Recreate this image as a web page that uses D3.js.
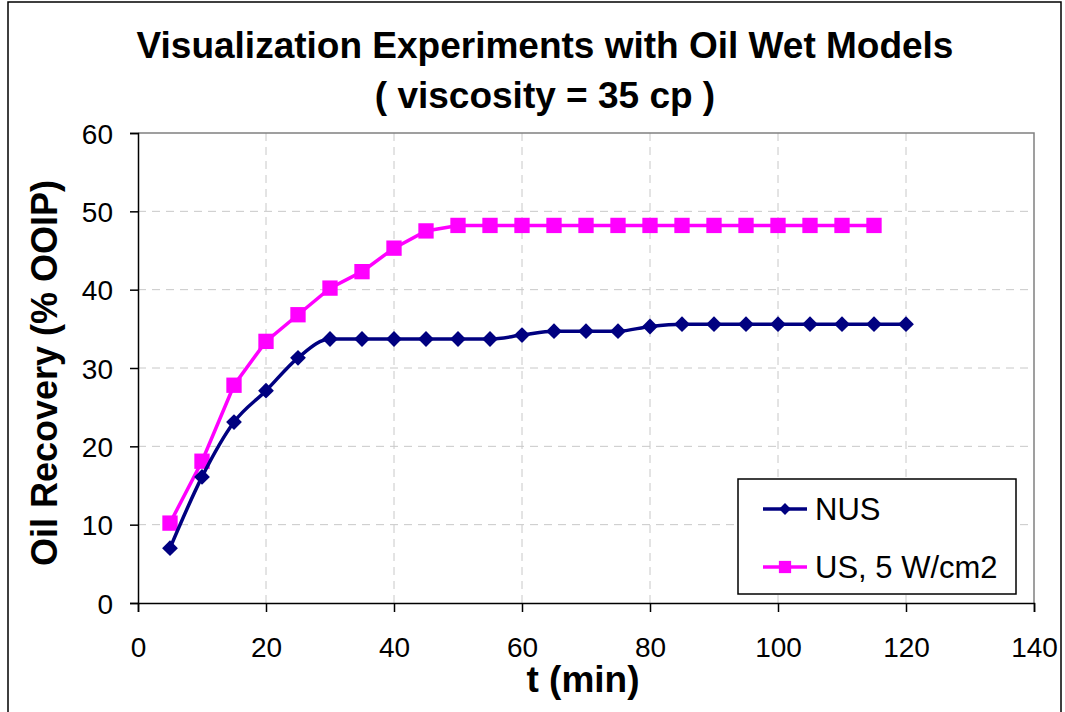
<!DOCTYPE html>
<html>
<head>
<meta charset="utf-8">
<script src="https://cdn.jsdelivr.net/npm/d3@7"></script>
<style>
  body { margin: 0; background: #fff; }
  svg { font-family: "Liberation Sans", Arial, sans-serif; }
</style>
</head>
<body>
<div id="chart-area"></div>
<script>
const timeNUS = [5, 10, 15, 20, 25, 30, 35, 40, 45, 50, 55, 60, 65, 70, 75, 80, 85, 90, 95, 100, 105, 110, 115, 120]
const nusValues = [7.0, 16.1, 23.1, 27.1, 31.3, 33.7, 33.7, 33.7, 33.7, 33.7, 33.7, 34.2, 34.7, 34.7, 34.7, 35.3, 35.6, 35.6, 35.6, 35.6, 35.6, 35.6, 35.6, 35.6]
const timeUS = [5, 10, 15, 20, 25, 30, 35, 40, 45, 50, 55, 60, 65, 70, 75, 80, 85, 90, 95, 100, 105, 110, 115]
const usValues = [10.2, 18.1, 27.8, 33.4, 36.8, 40.2, 42.3, 45.3, 47.5, 48.2, 48.2, 48.2, 48.2, 48.2, 48.2, 48.2, 48.2, 48.2, 48.2, 48.2, 48.2, 48.2, 48.2]
const xTicks = [0, 20, 40, 60, 80, 100, 120, 140]
const yTicks = [0, 10, 20, 30, 40, 50, 60]
const seriesNames = ["NUS", "US, 5 W/cm2"]

const W = 1065, H = 712
const MARGIN = { LEFT: 138, RIGHT: 31, TOP: 133, BOTTOM: 109 }
const WIDTH = W - MARGIN.LEFT - MARGIN.RIGHT
const HEIGHT = H - MARGIN.TOP - MARGIN.BOTTOM

const svg = d3.select("#chart-area").append("svg")
  .attr("width", W)
  .attr("height", H)

// outer chart border
svg.append("rect")
  .attr("x", 8).attr("y", 2)
  .attr("width", 1053).attr("height", 730)
  .attr("fill", "none").attr("stroke", "#000").attr("stroke-width", 1.5)

// title
svg.append("text")
  .attr("x", 545).attr("y", 58)
  .attr("text-anchor", "middle")
  .attr("font-size", "37px").attr("font-weight", "bold")
  .text("Visualization Experiments with Oil Wet Models")
svg.append("text")
  .attr("x", 545).attr("y", 108)
  .attr("text-anchor", "middle")
  .attr("font-size", "37px").attr("font-weight", "bold")
  .text("( viscosity = 35 cp )")

const g = svg.append("g")
  .attr("transform", `translate(${MARGIN.LEFT}, ${MARGIN.TOP})`)

const x = d3.scaleLinear().domain([0, 140]).range([0, WIDTH])
const y = d3.scaleLinear().domain([0, 60]).range([HEIGHT, 0])

// grid
g.append("g").selectAll("line")
  .data(yTicks.slice(1, -1))
  .join("line")
    .attr("x1", 0).attr("x2", WIDTH)
    .attr("y1", d => y(d)).attr("y2", d => y(d))
    .attr("stroke", "#c8c8c8").attr("stroke-dasharray", "8,6")
g.append("g").selectAll("line")
  .data(xTicks.slice(1, -1))
  .join("line")
    .attr("x1", d => x(d)).attr("x2", d => x(d))
    .attr("y1", 0).attr("y2", HEIGHT)
    .attr("stroke", "#c8c8c8").attr("stroke-dasharray", "8,6")

// plot area border top/right
g.append("path")
  .attr("d", `M0,0H${WIDTH}V${HEIGHT}`)
  .attr("fill", "none").attr("stroke", "#808080").attr("stroke-width", 1.5)

// axes
const xAxisGroup = g.append("g")
  .attr("transform", `translate(0, ${HEIGHT})`)
  .call(d3.axisBottom(x).tickValues(xTicks).tickSize(9).tickPadding(25))
const yAxisGroup = g.append("g")
  .call(d3.axisLeft(y).tickValues(yTicks).tickSize(8).tickPadding(17))

g.selectAll(".domain").attr("stroke", "#000").attr("stroke-width", 1.5)
g.selectAll(".tick line").attr("stroke", "#000").attr("stroke-width", 1.5)
g.selectAll(".tick text")
  .attr("font-size", "28px")
  .attr("font-family", "Liberation Sans, Arial, sans-serif")
  .attr("fill", "#000")
yAxisGroup.selectAll(".tick text").attr("dy", "0.36em")

// axis labels
svg.append("text")
  .attr("x", 583).attr("y", 692)
  .attr("text-anchor", "middle")
  .attr("font-size", "37px").attr("font-weight", "bold")
  .text("t (min)")
svg.append("text")
  .attr("transform", "translate(57, 373) rotate(-90)")
  .attr("text-anchor", "middle")
  .attr("font-size", "36px").attr("font-weight", "bold")
  .text("Oil Recovery (% OOIP)")

const line = d3.line().x(d => x(d[0])).y(d => y(d[1]))
const nusData = timeNUS.map((t, i) => [t, nusValues[i]])
const usData = timeUS.map((t, i) => [t, usValues[i]])

const diamond = d3.symbol().type(d3.symbolSquare).size(125)
const square = d3.symbol().type(d3.symbolSquare).size(235)

// US series (drawn first, NUS on top)
g.append("path")
  .datum(usData)
  .attr("fill", "none").attr("stroke", "#ff00ff").attr("stroke-width", 3.5)
  .attr("d", line)
g.selectAll(".us-pt")
  .data(usData)
  .join("path")
    .attr("class", "us-pt")
    .attr("transform", d => `translate(${x(d[0])}, ${y(d[1])})`)
    .attr("d", square)
    .attr("fill", "#ff00ff")

g.append("path")
  .datum(nusData)
  .attr("fill", "none").attr("stroke", "#000080").attr("stroke-width", 3.5)
  .attr("d", line.curve(d3.curveMonotoneX))
g.selectAll(".nus-pt")
  .data(nusData)
  .join("path")
    .attr("class", "nus-pt")
    .attr("transform", d => `translate(${x(d[0])}, ${y(d[1])}) rotate(45)`)
    .attr("d", diamond)
    .attr("fill", "#000080")

// legend
const legend = svg.append("g").attr("transform", "translate(738, 479)")
legend.append("rect")
  .attr("width", 278).attr("height", 115)
  .attr("fill", "#fff").attr("stroke", "#000").attr("stroke-width", 1.5)
const legendItems = [
  { name: seriesNames[0], color: "#000080", sym: d3.symbol().type(d3.symbolSquare).size(70), rot: 45, ly: 30 },
  { name: seriesNames[1], color: "#ff00ff", sym: d3.symbol().type(d3.symbolSquare).size(150), rot: 0, ly: 88 }
]
legendItems.forEach(it => {
  legend.append("line")
    .attr("x1", 25).attr("x2", 69)
    .attr("y1", it.ly).attr("y2", it.ly)
    .attr("stroke", it.color).attr("stroke-width", 3.5)
  legend.append("path")
    .attr("transform", `translate(47, ${it.ly}) rotate(${it.rot})`)
    .attr("d", it.sym)
    .attr("fill", it.color)
  legend.append("text")
    .attr("x", 77).attr("y", it.ly)
    .attr("dy", "0.36em")
    .attr("font-size", "31px")
    .text(it.name)
})
</script>
</body>
</html>
